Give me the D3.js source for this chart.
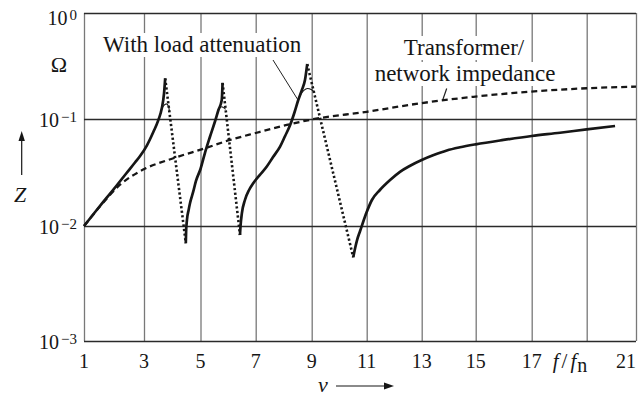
<!DOCTYPE html>
<html><head><meta charset="utf-8">
<script src="https://cdn.jsdelivr.net/npm/d3@7"></script>
<style>
body{margin:0;background:#fff;}
svg{display:block;}
</style>
</head><body><svg id="c" width="640" height="402" font-family="'Liberation Serif','Times New Roman','DejaVu Serif',serif"></svg>
<script>
// ---- data ----
const xTicks = [1,3,5,7,9,11,13,15,17,19,21];
const xTickLabels = ["1","3","5","7","9","11","13","15","17","f/fn","21"];
const yTicks = [1e-3,1e-2,1e-1,1];
const yTickExponents = ["\u22123","\u22122","\u22121","0"];

// thick solid branches (without load attenuation)
const resonance1 = [[1.00,0.0100],[1.20,0.01175],[1.53,0.01538],[1.98,0.0219],[2.42,0.0313],[2.70,0.0392],[2.87,0.0451],[3.10,0.0565],[3.33,0.0756],[3.51,0.098],[3.63,0.126],[3.71,0.175],[3.75,0.242]];
const resonance2 = [[4.48,0.00708],[4.49,0.00887],[4.52,0.01138],[4.58,0.01413],[4.63,0.0164],[4.74,0.0208],[4.84,0.0264],[5.00,0.0341],[5.16,0.0481],[5.34,0.0679],[5.53,0.0958],[5.65,0.1216],[5.77,0.151],[5.80,0.219]];
const resonance3 = [[6.43,0.00835],[6.45,0.0100],[6.50,0.0132],[6.61,0.0175],[6.76,0.0217],[6.91,0.0251],[7.15,0.0300],[7.39,0.0358],[7.62,0.0441],[7.87,0.0551],[8.05,0.0694],[8.23,0.0879],[8.39,0.1165],[8.52,0.151],[8.65,0.188],[8.76,0.233],[8.84,0.330]];
const resonance4 = [[10.51,0.00534],[10.58,0.00644],[10.65,0.00755],[10.76,0.00905],[10.87,0.0109],[11.00,0.0135],[11.19,0.0175],[11.48,0.0217],[11.85,0.0269],[12.21,0.0321],[12.58,0.0366],[13.00,0.0414],[13.42,0.0458],[13.93,0.0508],[14.42,0.0544],[15.00,0.0580],[15.99,0.0637],[17.00,0.0694],[18.03,0.0744],[19.00,0.0801],[20.15,0.0860]];

// thin peaks (with load attenuation)
const attenuated1 = [[3.58,0.117],[3.68,0.132],[3.79,0.139],[3.87,0.131],[3.90,0.117]];
const attenuated2 = [[5.64,0.121],[5.72,0.129],[5.77,0.1306],[5.83,0.128],[5.91,0.1235]];
const attenuated3 = [[8.60,0.170],[8.72,0.186],[8.85,0.194],[8.98,0.190],[9.08,0.182]];

// dotted falling flanks
const fall1 = [[3.75,0.242],[4.48,0.00708]];
const fall2 = [[5.80,0.219],[6.43,0.00835]];
const fall3 = [[8.84,0.330],[10.51,0.00534]];

// dashed transformer / network impedance
const transformer = [[1.00,0.0100],[1.53,0.0152],[2.20,0.0243],[2.87,0.0325],[4.04,0.0430],[5.16,0.0532],[6.07,0.0637],[7.00,0.0740],[8.11,0.0879],[9.00,0.0989],[11.00,0.117],[12.94,0.1406],[14.91,0.162],[16.94,0.181],[19.00,0.195],[21.00,0.202]];

// ---- drawing ----
const svg = d3.select("#c");
const ink = "#161616";
const x = d3.scaleLinear().domain(xTicks)
  .range([84,144,200.5,255.7,311.7,366.7,421.7,475.7,531.7,586.7,636]);
const y = d3.scaleLog().domain(yTicks).range([341,226,119,13]);
const plotTop = y(1), plotBottom = y(1e-3), plotLeft = x(1), plotRight = x(21);

// vertical grid
svg.append("g").attr("transform",`translate(0,${plotBottom})`)
  .call(d3.axisBottom(x).tickValues(xTicks).tickSize(-(plotBottom-plotTop)).tickFormat(""))
  .call(g=>g.select(".domain").remove())
  .call(g=>g.selectAll(".tick line").attr("stroke","#787878").attr("stroke-width",1.3));
// horizontal grid
svg.append("g").attr("transform",`translate(${plotLeft},0)`)
  .call(d3.axisLeft(y).tickValues(yTicks).tickSize(-(plotRight-plotLeft)).tickFormat(""))
  .call(g=>g.select(".domain").remove())
  .call(g=>g.selectAll(".tick line").attr("stroke","#2a2a2a").attr("stroke-width",1.3));

// annotation texts with white background boxes
const annG = svg.append("g");
function label(txt, xx, yy, anchor){
  const t = annG.append("text").attr("x",xx).attr("y",yy).attr("text-anchor",anchor)
    .attr("font-size",23).attr("fill",ink).text(txt);
  const b = t.node().getBBox();
  annG.insert("rect","text").attr("x",b.x-3).attr("y",b.y+1).attr("width",b.width+6).attr("height",b.height-1).attr("fill","#fff");
  return t;
}
label("With load attenuation",103,52,"start");
label("Transformer/",464,55,"middle");
label("network impedance",465,81,"middle");

// leader lines
svg.append("line").attr("x1",273).attr("y1",60).attr("x2",298).attr("y2",100).attr("stroke","#222").attr("stroke-width",1);
svg.append("line").attr("x1",446.7).attr("y1",88.5).attr("x2",442.7).attr("y2",100).attr("stroke","#222").attr("stroke-width",1.2);

const smooth = d3.line().x(d=>x(d[0])).y(d=>y(d[1])).curve(d3.curveMonotoneX);
const straight = d3.line().x(d=>x(d[0])).y(d=>y(d[1]));

svg.append("path").attr("d",smooth(transformer)).attr("fill","none").attr("stroke",ink)
  .attr("stroke-width",2.3).attr("stroke-dasharray","6,4");
[fall1,fall2,fall3].forEach(s=>svg.append("path").attr("d",straight(s)).attr("fill","none")
  .attr("stroke",ink).attr("stroke-width",2.6).attr("stroke-dasharray","2.2,2.4"));
[attenuated1,attenuated2,attenuated3].forEach(s=>svg.append("path").attr("d",smooth(s)).attr("fill","none")
  .attr("stroke",ink).attr("stroke-width",1.1));
[resonance1,resonance2,resonance3,resonance4].forEach(s=>svg.append("path").attr("d",smooth(s)).attr("fill","none")
  .attr("stroke",ink).attr("stroke-width",2.7).attr("stroke-linecap","butt"));

// x tick labels
xTicks.forEach((v,i)=>{
  const lab = xTickLabels[i];
  if(lab==="f/fn"){
    const t = svg.append("text").attr("x",x(v)-34).attr("y",368).attr("font-size",21).attr("fill",ink);
    t.append("tspan").attr("font-style","italic").text("f");
    t.append("tspan").attr("dx",3).text("/");
    t.append("tspan").attr("dx",3).attr("font-style","italic").text("f");
    t.append("tspan").attr("dx",1).attr("dy",4).attr("font-size",20).text("n");
  } else {
    svg.append("text").attr("x", x(v)).attr("y",368)
      .attr("text-anchor", i===xTicks.length-1 ? "end" : "middle")
      .attr("font-size",20).attr("fill",ink).text(lab);
  }
});

// y tick labels
yTicks.forEach((v,i)=>{
  const yy = Math.max(y(v)+8, 25);
  const t = svg.append("text").attr("x",77).attr("y",yy).attr("text-anchor","end")
    .attr("font-size",20).attr("fill",ink);
  t.append("tspan").text("10");
  t.append("tspan").attr("dx",2).attr("dy",-5).attr("font-size",15).text(yTickExponents[i]);
});

// unit and axis names
svg.append("text").attr("x",59).attr("y",72).attr("text-anchor","middle").attr("font-size",22).attr("fill",ink).text("\u03A9");
svg.append("text").attr("x",20).attr("y",202).attr("text-anchor","middle").attr("font-size",22).attr("font-style","italic").attr("fill",ink).text("Z");
svg.append("line").attr("x1",21.7).attr("y1",175).attr("x2",21.7).attr("y2",139).attr("stroke",ink).attr("stroke-width",1.2);
svg.append("path").attr("d","M21.7,131 L18.5,141 L24.9,141 Z").attr("fill",ink);
svg.append("text").attr("x",318).attr("y",392).attr("font-size",22).attr("font-style","italic").attr("fill",ink).text("v");
svg.append("line").attr("x1",336).attr("y1",386).attr("x2",386).attr("y2",386).attr("stroke",ink).attr("stroke-width",1.2);
svg.append("path").attr("d","M394,386 L384,382.6 L384,389.4 Z").attr("fill",ink);
</script>
</body></html>
